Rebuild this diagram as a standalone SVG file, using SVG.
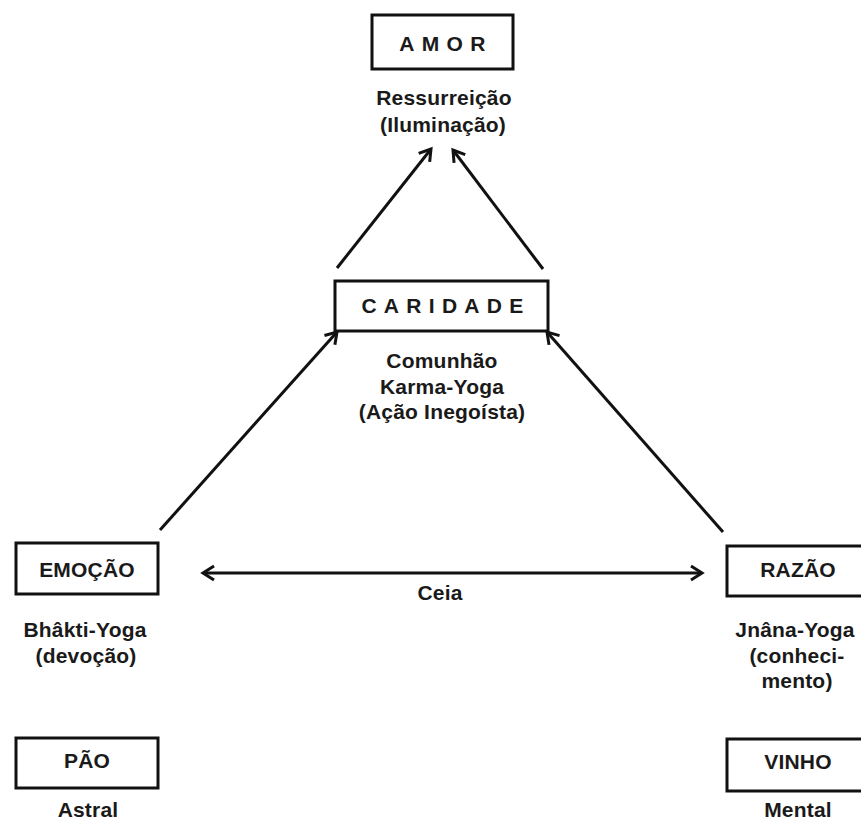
<svg xmlns="http://www.w3.org/2000/svg" width="861" height="822" viewBox="0 0 861 822">
<defs>
<style>
.box{fill:#fff;stroke:#111;stroke-width:3}
.t{font-family:"Liberation Sans",Arial,Helvetica,sans-serif;font-size:21px;font-weight:bold;fill:#1a1a1a;text-anchor:middle;letter-spacing:0.2px}
.sp{letter-spacing:7.3px}
.c{stroke:#111;stroke-width:3;fill:none;marker-end:url(#ah)}
</style>
<marker id="ah" markerWidth="20" markerHeight="20" viewBox="-14 -10 20 20" refX="0" refY="0" orient="auto-start-reverse" markerUnits="userSpaceOnUse">
<path d="M -11 -7 L 0 0 L -11 7" fill="none" stroke="#111" stroke-width="3"/>
</marker>
</defs>
<rect width="861" height="822" fill="#fff"/>
<g id="connectors">
<line class="c" x1="337" y1="268" x2="431" y2="149"/>
<line class="c" x1="543" y1="269" x2="453" y2="150"/>
<line class="c" x1="160" y1="530" x2="337" y2="332"/>
<line class="c" x1="723" y1="532" x2="547" y2="332"/>
<line class="c" x1="203" y1="573" x2="702" y2="573" style="marker-start:url(#ah)"/>
<text class="t" x="440" y="600">Ceia</text>
</g>
<g id="amor">
<rect class="box" x="372" y="15" width="141" height="54"/>
<text class="t sp" x="446" y="51">AMOR</text>
<text class="t" x="444" y="105">Ressurreição</text>
<text class="t" x="443" y="132">(Iluminação)</text>
</g>
<g id="caridade">
<rect class="box" x="335" y="281" width="213" height="50"/>
<text class="t sp" x="446" y="313">CARIDADE</text>
<text class="t" x="442" y="368">Comunhão</text>
<text class="t" x="442" y="394">Karma-Yoga</text>
<text class="t" x="442" y="419">(Ação Inegoísta)</text>
</g>
<g id="emocao">
<rect class="box" x="16" y="543" width="142" height="51"/>
<text class="t" x="87" y="577">EMOÇÃO</text>
<text class="t" x="85" y="637">Bhâkti-Yoga</text>
<text class="t" x="86" y="663">(devoção)</text>
</g>
<g id="razao">
<rect class="box" x="727" y="546" width="150" height="50"/>
<text class="t" x="798" y="577">RAZÃO</text>
<text class="t" x="795" y="637">Jnâna-Yoga</text>
<text class="t" x="797" y="663">(conheci-</text>
<text class="t" x="797" y="688">mento)</text>
</g>
<g id="pao">
<rect class="box" x="16" y="738" width="142" height="50"/>
<text class="t" x="87" y="768">PÃO</text>
<text class="t" x="88" y="817">Astral</text>
</g>
<g id="vinho">
<rect class="box" x="727" y="739" width="150" height="52"/>
<text class="t" x="798" y="769">VINHO</text>
<text class="t" x="798" y="817">Mental</text>
</g>
</svg>
